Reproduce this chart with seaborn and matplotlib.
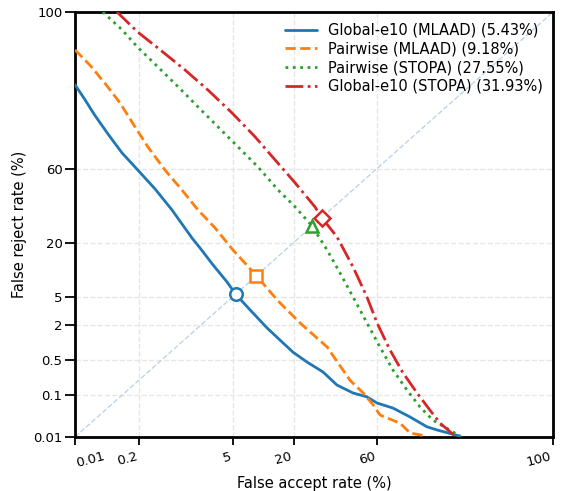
import numpy as np
import pandas as pd
import matplotlib
matplotlib.use("Agg")
import matplotlib.pyplot as plt
import seaborn as sns
from statistics import NormalDist

sns.set_theme(style="white")
plt.rcParams['font.family'] = ['DejaVu Sans']
plt.rcParams['text.color'] = 'black'
plt.rcParams['axes.labelcolor'] = 'black'
plt.rcParams['xtick.color'] = 'black'
plt.rcParams['ytick.color'] = 'black'

# DET curve points (percent)
blue_far = [0.01, 0.0167, 0.027, 0.051, 0.097, 0.19, 0.385, 0.73, 1.47, 1.91, 2.86, 4.3, 5.43,
            7.9, 11.7, 15.4, 19.8, 25.3, 32.5, 39.4, 47.7, 55.0, 60.2, 68.0, 75.6, 82.0, 85.3, 91.2]
blue_frr = [93.3, 89.9, 85.3, 77.9, 68.7, 59.4, 48.2, 36.1, 22.0, 17.9, 12.1, 7.74, 5.43,
            3.30, 1.77, 1.12, 0.69, 0.455, 0.293, 0.159, 0.108, 0.089, 0.065, 0.050, 0.031, 0.018, 0.015, 0.0105]

orange_far = [0.01, 0.0215, 0.044, 0.089, 0.17, 0.29, 0.56, 1.04, 1.79, 3.04, 5.07, 9.18,
              14.5, 22.5, 34.5, 46.1, 53.0, 58.2, 61.7, 64.0, 71.3, 75.6, 82.0]
orange_frr = [97.8, 96.3, 93.6, 89.0, 80.9, 71.8, 59.4, 47.6, 36.1, 26.7, 17.1, 9.18,
              4.56, 2.12, 0.85, 0.20, 0.108, 0.059, 0.0346, 0.031, 0.022, 0.0126, 0.0105]

green_far = [0.04, 0.097, 0.19, 0.43, 0.91, 1.79, 3.32, 5.8, 9.5, 14.8, 20.6, 27.55,
             34.5, 40.9, 47.7, 55.0, 61.7, 68.0, 74.3, 79.5, 84.0, 91.2]
green_frr = [99.5, 98.96, 98.0, 96.1, 92.9, 87.9, 80.9, 71.8, 61.1, 47.6, 37.8, 27.55,
             17.1, 9.9, 5.0, 2.12, 0.85, 0.32, 0.125, 0.053, 0.026, 0.0105]

red_far = [0.077, 0.19, 0.50, 1.16, 2.46, 4.94, 8.9, 13.9, 20.6, 28.8, 31.93,
           39.4, 47.7, 55.0, 60.2, 66.6, 72.6, 78.4, 83.0, 86.2, 90.1]
red_frr = [99.5, 98.87, 97.7, 95.7, 92.2, 86.0, 76.6, 65.0, 51.8, 37.8, 31.93,
           22.5, 11.5, 5.0, 2.12, 0.755, 0.28, 0.108, 0.045, 0.022, 0.0105]

eer = [5.43, 9.18, 27.55, 31.93]
names = ['Global-e10 (MLAAD)', 'Pairwise (MLAAD)', 'Pairwise (STOPA)', 'Global-e10 (STOPA)']
x_tick_vals = [0.01, 0.2, 5, 20, 60, 99.5]
x_tick_labels = ['0.01', '0.2', '5', '20', '60', '100']
y_tick_vals = [0.01, 0.1, 0.5, 2, 5, 20, 60, 99.5]
y_tick_labels = ['0.01', '0.1', '0.5', '2', '5', '20', '60', '100']

nd = NormalDist()
_ppf = np.vectorize(nd.inv_cdf, otypes=[float])
_cdf = np.vectorize(nd.cdf, otypes=[float])


def fwd(p):
    p = np.clip(np.asarray(p, dtype=float) / 100.0, 1e-9, 1 - 1e-9)
    return _ppf(p)


def inv(z):
    return _cdf(np.asarray(z, dtype=float)) * 100.0


fig, ax = plt.subplots(figsize=(5.64, 4.91), dpi=100)
fig.subplots_adjust(left=0.133, right=0.9805, top=0.9756, bottom=0.110)

ax.set_xscale('function', functions=(fwd, inv))
ax.set_yscale('function', functions=(fwd, inv))
ax.set_xlim(0.01, 99.5)
ax.set_ylim(0.01, 99.5)

# chance diagonal
ax.plot([0.01, 99.5], [0.01, 99.5], linestyle='--', color='#bfd4e8', linewidth=1, zorder=1)

series = [
    (blue_far, blue_frr, '#1f77b4', '-', 'o'),
    (orange_far, orange_frr, '#ff7f0e', '--', 's'),
    (green_far, green_frr, '#2ca02c', ':', '^'),
    (red_far, red_frr, '#d62728', '-.', 'D'),
]

for (fa, fr, col, ls, mk), name, e in zip(series, names, eer):
    df = pd.DataFrame({'far': fa, 'frr': fr})
    sns.lineplot(data=df, x='far', y='frr', ax=ax, sort=False, estimator=None,
                 color=col, linestyle=ls, linewidth=2, label=f"{name} ({e:.2f}%)", zorder=3)
    # EER marker
    ax.plot([e], [e], marker=mk, markersize=9 if mk != 'D' else 8, markerfacecolor='white',
            markeredgecolor=col, markeredgewidth=1.8, linestyle='none', zorder=4)

ax.set_xticks(x_tick_vals)
ax.set_xticklabels(x_tick_labels, rotation=15, ha='right')
ax.get_xticklabels()[0].set_ha('left')
ax.set_yticks(y_tick_vals)
ax.set_yticklabels(y_tick_labels)
ax.minorticks_off()
ax.tick_params(axis='x', which='major', direction='out', length=6, width=1.3,
               labelsize=9.5, bottom=True)
ax.tick_params(axis='y', which='major', direction='out', length=7.5, width=1.3,
               labelsize=9.5, left=True, pad=1.5)
ax.grid(True, linestyle='--', color='#e6e6e6', linewidth=1)

for s in ax.spines.values():
    s.set_color('black')
    s.set_linewidth(2)

ax.set_xlabel('False accept rate (%)', fontsize=10.5)
ax.set_ylabel('False reject rate (%)', fontsize=10.5)
ax.yaxis.set_label_coords(-0.100, 0.5)

ax.legend(loc='upper right', bbox_to_anchor=(0.998, 0.995), frameon=False, fontsize=10.5,
          handlelength=2.2, borderaxespad=0.2, labelspacing=0.25)

plt.savefig('out.png', dpi=100)
